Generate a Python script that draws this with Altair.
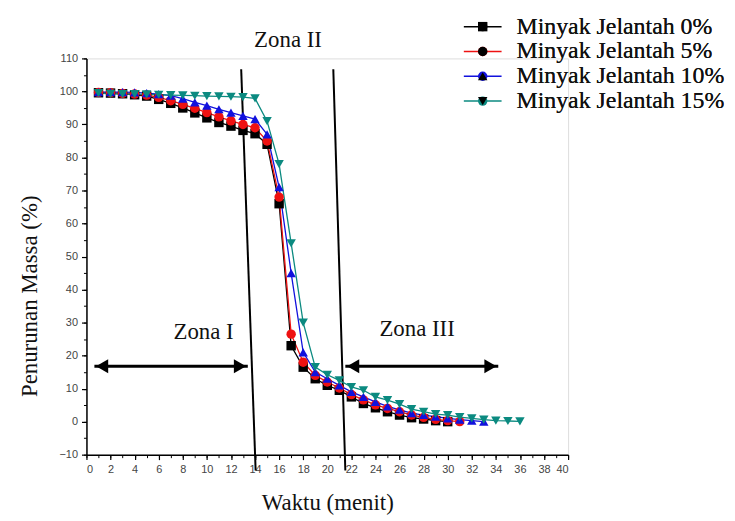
import altair as alt
import pandas as pd

# ---------------- data ----------------
series_names = ["Minyak Jelantah 0%", "Minyak Jelantah 5%", "Minyak Jelantah 10%", "Minyak Jelantah 15%"]
series_keys = ["s0", "s1", "s2", "s3"]
series_colors = ["#000000", "#ee1111", "#1111dd", "#0b8a80"]
series_shapes = ["square", "circle", "triangle-up", "triangle-down"]

time_0 = [1, 2, 3, 4, 5, 6, 7, 8, 9, 10, 11, 12, 13, 14, 15, 16, 17, 18, 19, 20,
          21, 22, 23, 24, 25, 26, 27, 28, 29, 30]
mass_0 = [99.6, 99.5, 99.3, 99.0, 98.6, 97.6, 96.4, 95.0, 93.5, 92.0, 90.6, 89.5, 88.2, 87.2, 84.0,
          66.0, 23.0, 16.5, 13.0, 11.0, 9.5, 7.5, 5.5, 4.2, 3.0, 2.0, 1.2, 0.8, 0.3, 0.0]

time_5 = [1, 2, 3, 4, 5, 6, 7, 8, 9, 10, 11, 12, 13, 14, 15, 16, 17, 18, 19, 20,
          21, 22, 23, 24, 25, 26, 27, 28, 29, 30, 31]
mass_5 = [99.7, 99.6, 99.4, 99.2, 98.9, 98.2, 97.2, 96.1, 94.9, 93.6, 92.3, 91.1, 90.0, 89.0, 85.0,
          68.0, 26.5, 18.0, 14.0, 12.0, 10.2, 8.2, 6.6, 5.1, 4.0, 3.0, 2.0, 1.3, 0.7, 0.3, 0.0]

time_10 = [1, 2, 3, 4, 5, 6, 7, 8, 9, 10, 11, 12, 13, 14, 15, 16, 17, 18, 19, 20,
           21, 22, 23, 24, 25, 26, 27, 28, 29, 30, 31, 32, 33]
mass_10 = [99.8, 99.8, 99.8, 99.7, 99.5, 99.2, 98.7, 97.8, 96.7, 95.7, 94.6, 93.6, 92.6, 91.6, 87.0,
           71.0, 45.0, 21.0, 15.0, 13.0, 11.0, 9.0, 7.5, 6.0, 4.6, 3.6, 2.6, 2.0, 1.5, 1.0, 0.6, 0.3, 0.0]

time_15 = [1, 2, 3, 4, 5, 6, 7, 8, 9, 10, 11, 12, 13, 14, 15, 16, 17, 18, 19, 20,
           21, 22, 23, 24, 25, 26, 27, 28, 29, 30, 31, 32, 33, 34, 35, 36]
mass_15 = [99.5, 99.3, 99.2, 99.2, 99.1, 99.0, 98.9, 98.8, 98.7, 98.6, 98.5, 98.4, 98.3, 97.9, 91.0,
           78.0, 54.0, 30.0, 16.5, 14.2, 12.5, 10.5, 9.5, 7.5, 6.5, 5.3, 3.8, 3.0, 2.3, 2.0, 1.4, 1.0,
           0.6, 0.3, 0.2, 0.1]

# zone boundary lines (slightly slanted, as drawn in the source figure)
zone_line_x_top = [12.85, 20.5]
zone_line_x_bottom = [14.05, 21.5]
zone_line_y_top = [106.7, 106.7]
zone_line_y_bottom = [-14.8, -14.8]

# double arrows
arrow_x_start = [0.66, 21.5]
arrow_x_end = [13.4, 34.2]
arrow_y = [16.8, 16.8]
arrowhead_x = [1.3, 12.75, 22.15, 33.55]
arrowhead_y = [16.8, 16.8, 16.8, 16.8]
arrowhead_dir = ["left", "right", "left", "right"]

# zone labels
zone_text = ["Zona I", "Zona II", "Zona III"]
zone_text_x = [9.73, 16.74, 27.46]
zone_text_y = [27.0, 115.7, 27.9]

x_major = [0, 2, 4, 6, 8, 10, 12, 14, 16, 18, 20, 22, 24, 26, 28, 30, 32, 34, 36, 38, 40]
x_minor = [0, 1, 2, 3, 4, 5, 6, 7, 8, 9, 10, 11, 12, 13, 14, 15, 16, 17, 18, 19, 20,
           21, 22, 23, 24, 25, 26, 27, 28, 29, 30, 31, 32, 33, 34, 35, 36, 37, 38, 39, 40]
y_major = [-10, 0, 10, 20, 30, 40, 50, 60, 70, 80, 90, 100, 110]
y_minor = [-10, -5, 0, 5, 10, 15, 20, 25, 30, 35, 40, 45, 50, 55, 60, 65, 70, 75, 80, 85, 90, 95,
           100, 105, 110]

# ---------------- tables ----------------
frames = []
for name, key, t, m in zip(series_names, series_keys,
                           [time_0, time_5, time_10, time_15],
                           [mass_0, mass_5, mass_10, mass_15]):
    frames.append(pd.DataFrame({"time": t, "mass": m, "series": name, "key": key}))
df = pd.concat(frames, ignore_index=True)

zones = pd.DataFrame({"x": zone_line_x_top, "x2": zone_line_x_bottom,
                      "y": zone_line_y_top, "y2": zone_line_y_bottom})
arrows = pd.DataFrame({"x": arrow_x_start, "x2": arrow_x_end, "y": arrow_y})
heads = pd.DataFrame({"x": arrowhead_x, "y": arrowhead_y, "dir": arrowhead_dir})
labels = pd.DataFrame({"x": zone_text_x, "y": zone_text_y, "text": zone_text})

xs = alt.Scale(domain=[0, 40], nice=False, zero=False)
ys = alt.Scale(domain=[-10, 110], nice=False, zero=False)

SERIF = "Liberation Serif"
SANS = "Liberation Sans"

# minor-tick axes carried by the zone-line layer
zone_layer = alt.Chart(zones).mark_rule(color="#000000", strokeWidth=2).encode(
    x=alt.X("x:Q", scale=xs, axis=alt.Axis(values=x_minor, labels=False, tickSize=3, domain=False,
                                           grid=False, title=None, orient="bottom", tickColor="#000000",
                                           tickWidth=1)),
    x2="x2:Q",
    y=alt.Y("y:Q", scale=ys, axis=alt.Axis(values=y_minor, labels=False, tickSize=3, domain=False,
                                           grid=False, title=None, orient="left", tickColor="#000000",
                                           tickWidth=1)),
    y2="y2:Q",
)

line_layer = alt.Chart(df).mark_line(strokeWidth=1.3).encode(
    x=alt.X("time:Q", scale=xs,
            axis=alt.Axis(values=x_major, tickSize=5, grid=False, orient="bottom",
                          title="Waktu (menit)", titleFont=SERIF, titleFontSize=23,
                          titleFontWeight="normal", titleColor="#111111",
                          titleY=48, titleBaseline="middle",
                          labelFont=SANS, labelFontSize=11, labelColor="#444444", labelPadding=4,
                          domainColor="#000000", domainWidth=1.5, tickColor="#000000", tickWidth=1.2)),
    y=alt.Y("mass:Q", scale=ys,
            axis=alt.Axis(values=y_major, tickSize=5, grid=False, orient="left",
                          title="Penurunan Massa (%)", titleFont=SERIF, titleFontSize=23,
                          titleFontWeight="normal", titleColor="#111111",
                          titleX=-57, titleY=239, titleBaseline="middle",
                          labelFont=SANS, labelFontSize=11, labelColor="#444444", labelPadding=4,
                          domainColor="#000000", domainWidth=1.5, tickColor="#000000", tickWidth=1.2)),
    stroke=alt.Stroke("key:N", scale=alt.Scale(domain=series_keys, range=series_colors),
                      legend=alt.Legend(orient="none", legendX=387, legendY=-44, title=None,
                                        symbolType="M-3.8,0H3.8", symbolSize=100,
                                        symbolStrokeWidth=1.5, labelFontSize=24, labelFont=SERIF,
                                        labelExpr="''", rowPadding=1, labelOffset=22, padding=0,
                                        labelLimit=300)),
    detail="series:N",
    order="time:Q",
)

legend_props = dict(orient="none", legendX=387, legendY=-44, title=None, symbolSize=90,
                    symbolStrokeWidth=0, labelFontSize=24, labelFont=SERIF, labelColor="#111111",
                    labelFontWeight="normal", rowPadding=1, labelOffset=22, padding=0, labelLimit=300)

point_layer = alt.Chart(df).mark_point(filled=True, size=90, opacity=1, strokeWidth=0).encode(
    x=alt.X("time:Q", scale=xs, axis=None),
    y=alt.Y("mass:Q", scale=ys, axis=None),
    fill=alt.Fill("series:N", scale=alt.Scale(domain=series_names, range=series_colors),
                  legend=alt.Legend(**legend_props)),
    shape=alt.Shape("series:N", scale=alt.Scale(domain=series_names, range=series_shapes),
                    legend=alt.Legend(**legend_props)),
)

arrow_layer = alt.Chart(arrows).mark_rule(color="#000000", strokeWidth=3).encode(
    x=alt.X("x:Q", scale=xs, axis=None), x2="x2:Q", y=alt.Y("y:Q", scale=ys, axis=None)
)

head_layer = alt.Chart(heads).mark_point(filled=True, size=200, color="#000000", opacity=1).encode(
    x=alt.X("x:Q", scale=xs, axis=None),
    y=alt.Y("y:Q", scale=ys, axis=None),
    shape=alt.Shape("dir:N", scale=alt.Scale(domain=["left", "right"],
                                             range=["triangle-left", "triangle-right"]), legend=None),
)

text_layer = alt.Chart(labels).mark_text(font=SERIF, fontSize=23, color="#111111",
                                         baseline="middle", align="center").encode(
    x=alt.X("x:Q", scale=xs, axis=None),
    y=alt.Y("y:Q", scale=ys, axis=None),
    text="text:N",
)

chart = alt.layer(zone_layer, line_layer, point_layer, arrow_layer, head_layer, text_layer).resolve_axis(
    x="independent", y="independent"
).resolve_scale(shape="independent").properties(
    width=485, height=399,
    autosize=alt.AutoSizeParams(type="none"),
    padding={"left": 79, "top": 49, "right": 160, "bottom": 60},
).configure_view(stroke=None).configure_legend(
    labelFont=SERIF, labelFontSize=24, labelColor="#111111"
).configure(background="#ffffff")

chart.save("out.html", embed_options={"renderer": "svg", "actions": False})
